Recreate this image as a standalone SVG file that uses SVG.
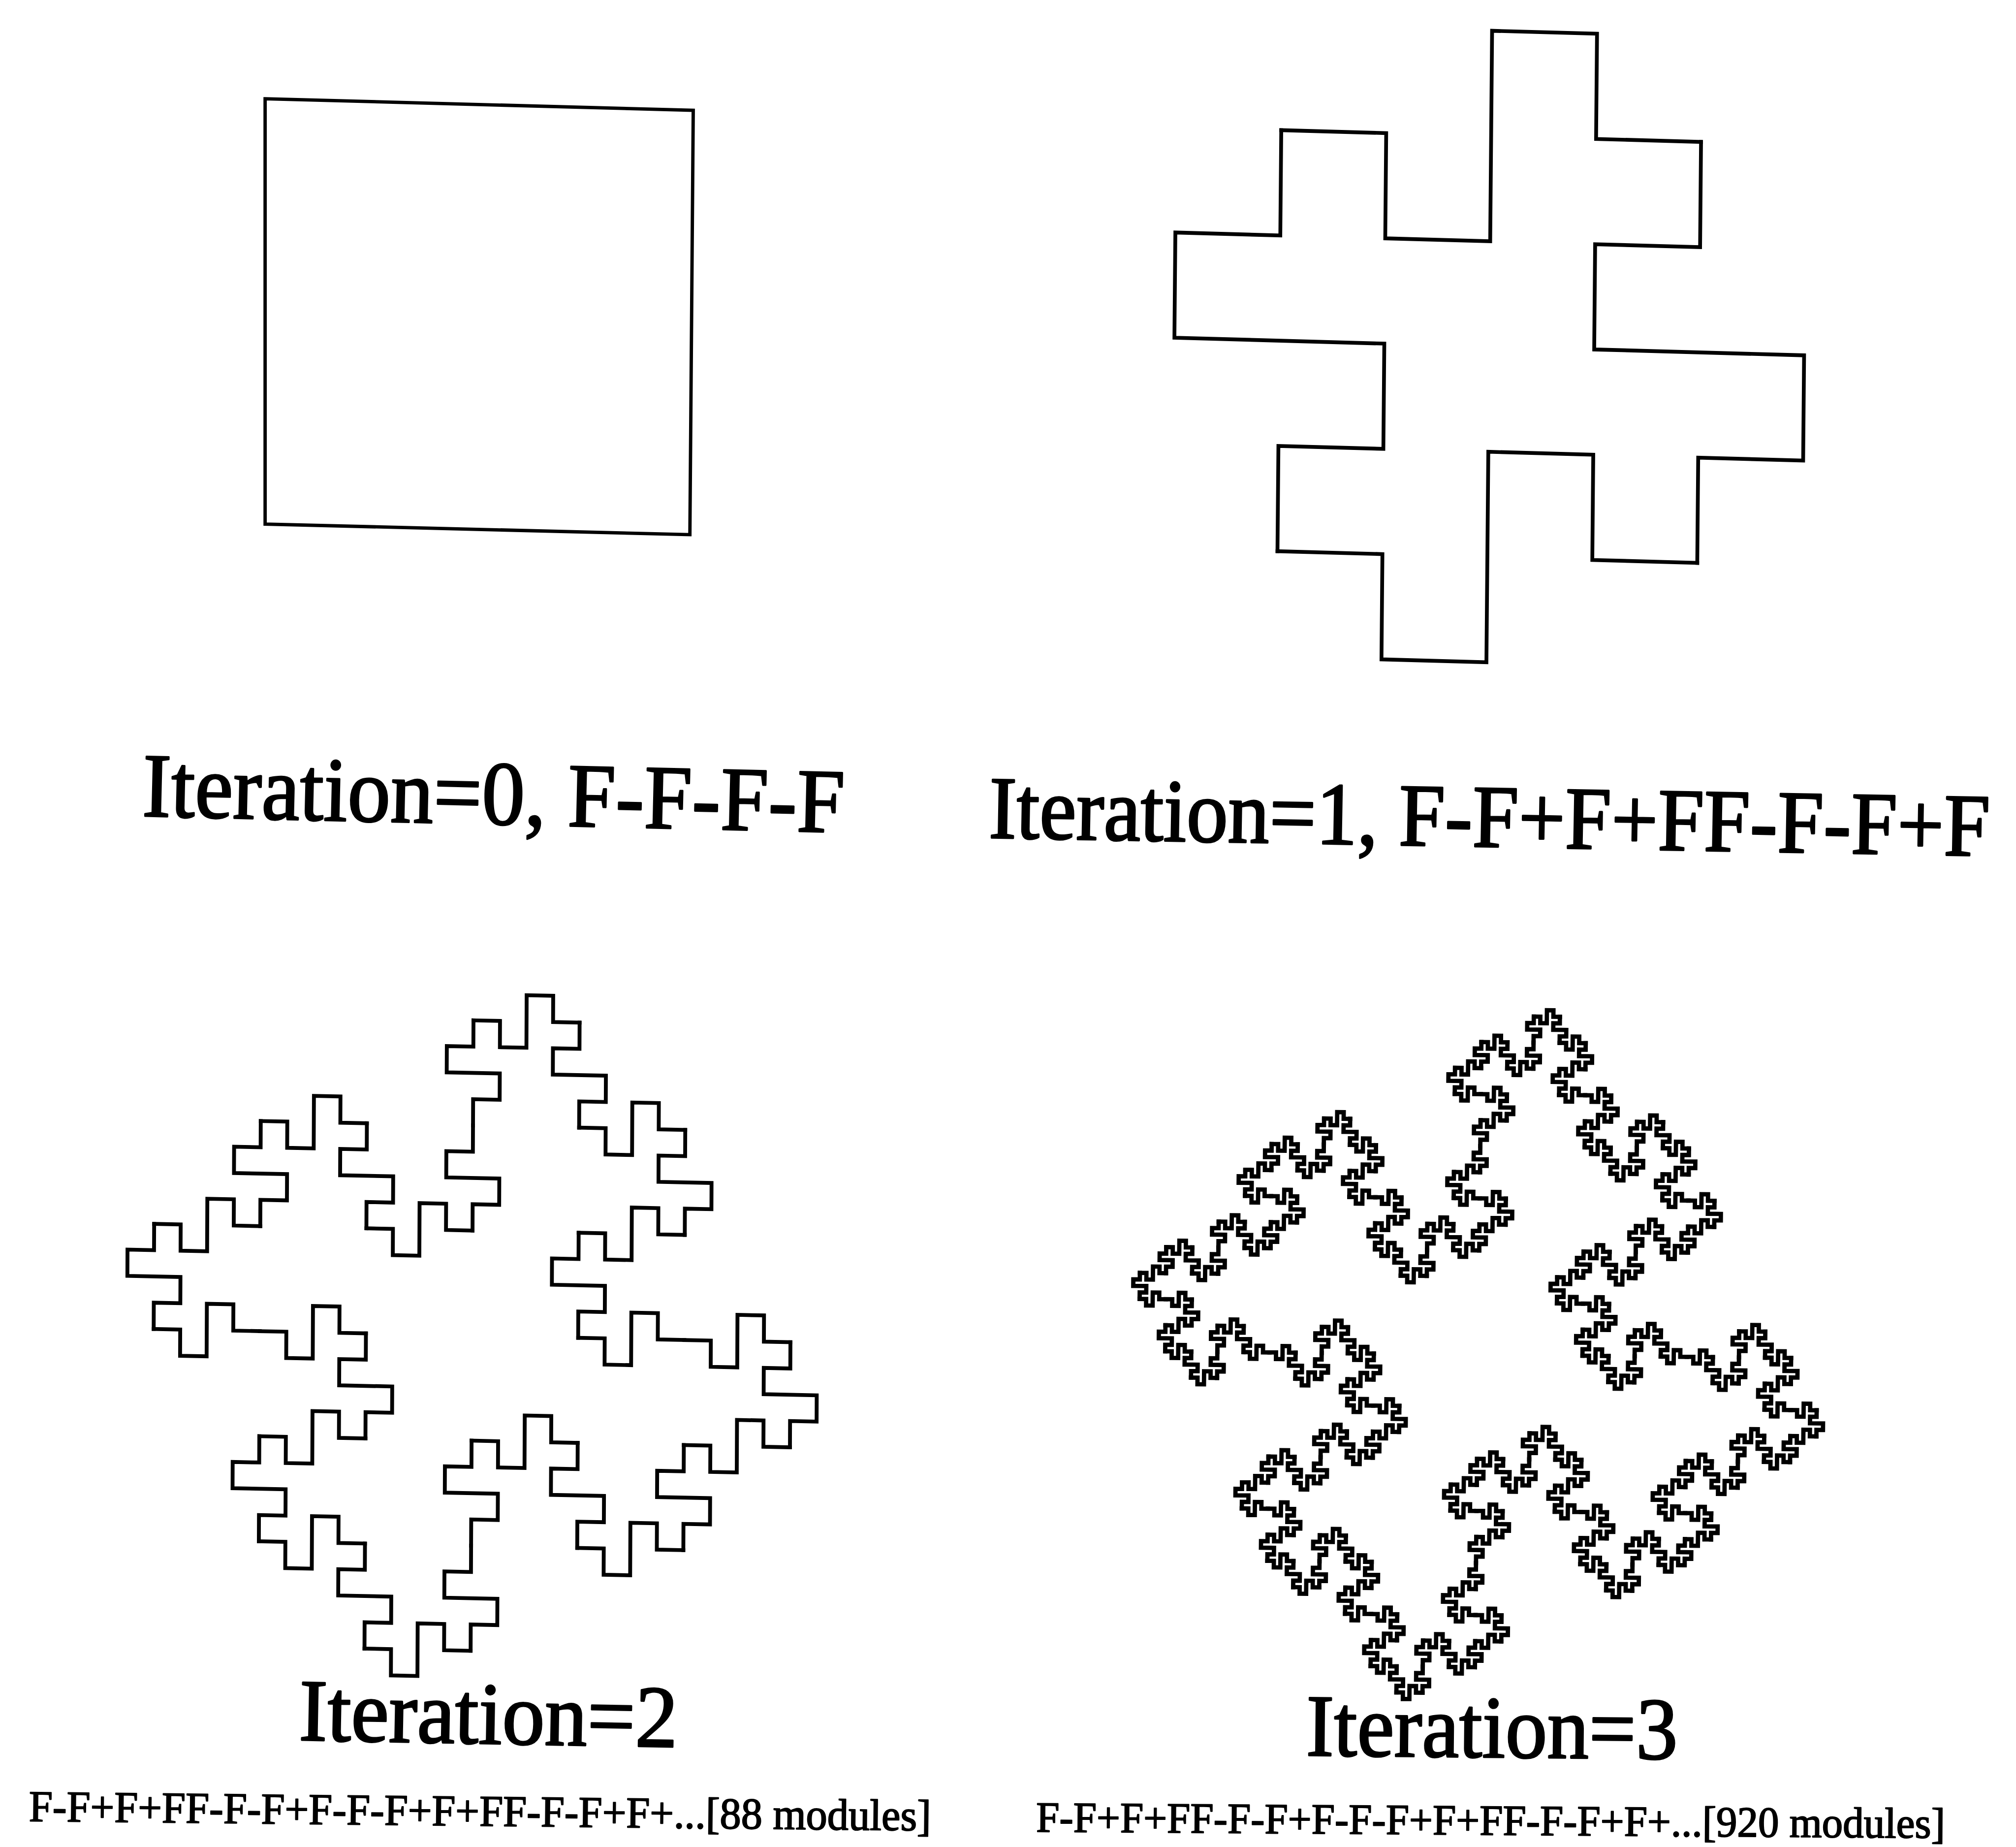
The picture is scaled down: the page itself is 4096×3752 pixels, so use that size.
<svg xmlns="http://www.w3.org/2000/svg" width="4096" height="3752" viewBox="0 0 4096 3752">
<style>
.curve{fill:none;stroke:#000;stroke-linecap:square;stroke-linejoin:miter}
.lbl{font-family:"Liberation Serif","Times New Roman",serif;fill:#000;stroke:#000;stroke-linejoin:round}
.big{stroke-width:3.5px}
.small{stroke-width:2.2px}
</style>
<defs>
<path id="e1" d="M0 0H1V1H2V-1H3V0H4"/>
<g id="e2">
<use href="#e1"/>
<use href="#e1" transform="translate(4 0) rotate(90)"/>
<use href="#e1" transform="translate(4 4)"/>
<use href="#e1" transform="translate(8 4) rotate(-90)"/>
<use href="#e1" transform="translate(8 0) rotate(-90)"/>
<use href="#e1" transform="translate(8 -4)"/>
<use href="#e1" transform="translate(12 -4) rotate(90)"/>
<use href="#e1" transform="translate(12 0)"/>
</g>
<g id="e3">
<use href="#e2"/>
<use href="#e2" transform="translate(16 0) rotate(90)"/>
<use href="#e2" transform="translate(16 16)"/>
<use href="#e2" transform="translate(32 16) rotate(-90)"/>
<use href="#e2" transform="translate(32 0) rotate(-90)"/>
<use href="#e2" transform="translate(32 -16)"/>
<use href="#e2" transform="translate(48 -16) rotate(90)"/>
<use href="#e2" transform="translate(48 0)"/>
</g>
</defs>
<rect width="4096" height="3752" fill="#fff"/>
<g transform="scale(0.97406)">
<g id="iteration-0">
<polygon class="curve" points="553,206 1446,230 1439,1115 553,1093" stroke-width="7"/>
</g>
<g id="iteration-1" class="curve" transform="matrix(218.9 6.1 -1.97 219.5 2672.5 271.5)" stroke-width="0.036">
<use href="#e1"/>
<use href="#e1" transform="translate(4 0) rotate(90)"/>
<use href="#e1" transform="translate(4 4) rotate(180)"/>
<use href="#e1" transform="translate(0 4) rotate(270)"/>
</g>
<g id="iteration-2" class="curve" transform="matrix(55.34 1.153 -0.249 54.78 543.9 2337.9)" stroke-width="0.145">
<use href="#e2"/>
<use href="#e2" transform="translate(16 0) rotate(90)"/>
<use href="#e2" transform="translate(16 16) rotate(180)"/>
<use href="#e2" transform="translate(0 16) rotate(270)"/>
</g>
<g id="iteration-3" class="curve" transform="matrix(13.60 0.1443 -0.1406 13.58 2652.5 2385.9)" stroke-width="0.66">
<use href="#e3"/>
<use href="#e3" transform="translate(64 0) rotate(90)"/>
<use href="#e3" transform="translate(64 64) rotate(180)"/>
<use href="#e3" transform="translate(0 64) rotate(270)"/>
</g>
<g id="label-0">
<text class="lbl big" x="296" y="1702" font-size="190" textLength="1465" lengthAdjust="spacingAndGlyphs" transform="rotate(1.33 296 1702)">Iteration=0, F-F-F-F</text>
</g>
<g id="label-1">
<text class="lbl big" x="0" y="0" font-size="172" textLength="2088" lengthAdjust="spacingAndGlyphs" transform="translate(2062 1747) rotate(1.04) scale(1 1.08)">Iteration=1, F-F+F+FF-F-F+F</text>
</g>
<g id="label-2">
<text class="lbl big" x="623" y="3629" font-size="184" textLength="790" lengthAdjust="spacingAndGlyphs" transform="rotate(1.07 623 3629)">Iteration=2</text>
</g>
<g id="label-3">
<text class="lbl big" x="2724" y="3661" font-size="184" textLength="775" lengthAdjust="spacingAndGlyphs" transform="rotate(0.55 2724 3661)">Iteration=3</text>
</g>
<g id="string-2">
<text class="lbl small" x="60" y="3798" font-size="92" textLength="1882" lengthAdjust="spacingAndGlyphs" transform="rotate(0.6 60 3798)">F-F+F+FF-F-F+F-F-F+F+FF-F-F+F+...[88 modules]</text>
</g>
<g id="string-3">
<text class="lbl small" x="2161" y="3820" font-size="90" textLength="1896" lengthAdjust="spacingAndGlyphs" transform="rotate(0.4 2161 3820)">F-F+F+FF-F-F+F-F-F+F+FF-F-F+F+...[920 modules]</text>
</g>
</g>
</svg>
